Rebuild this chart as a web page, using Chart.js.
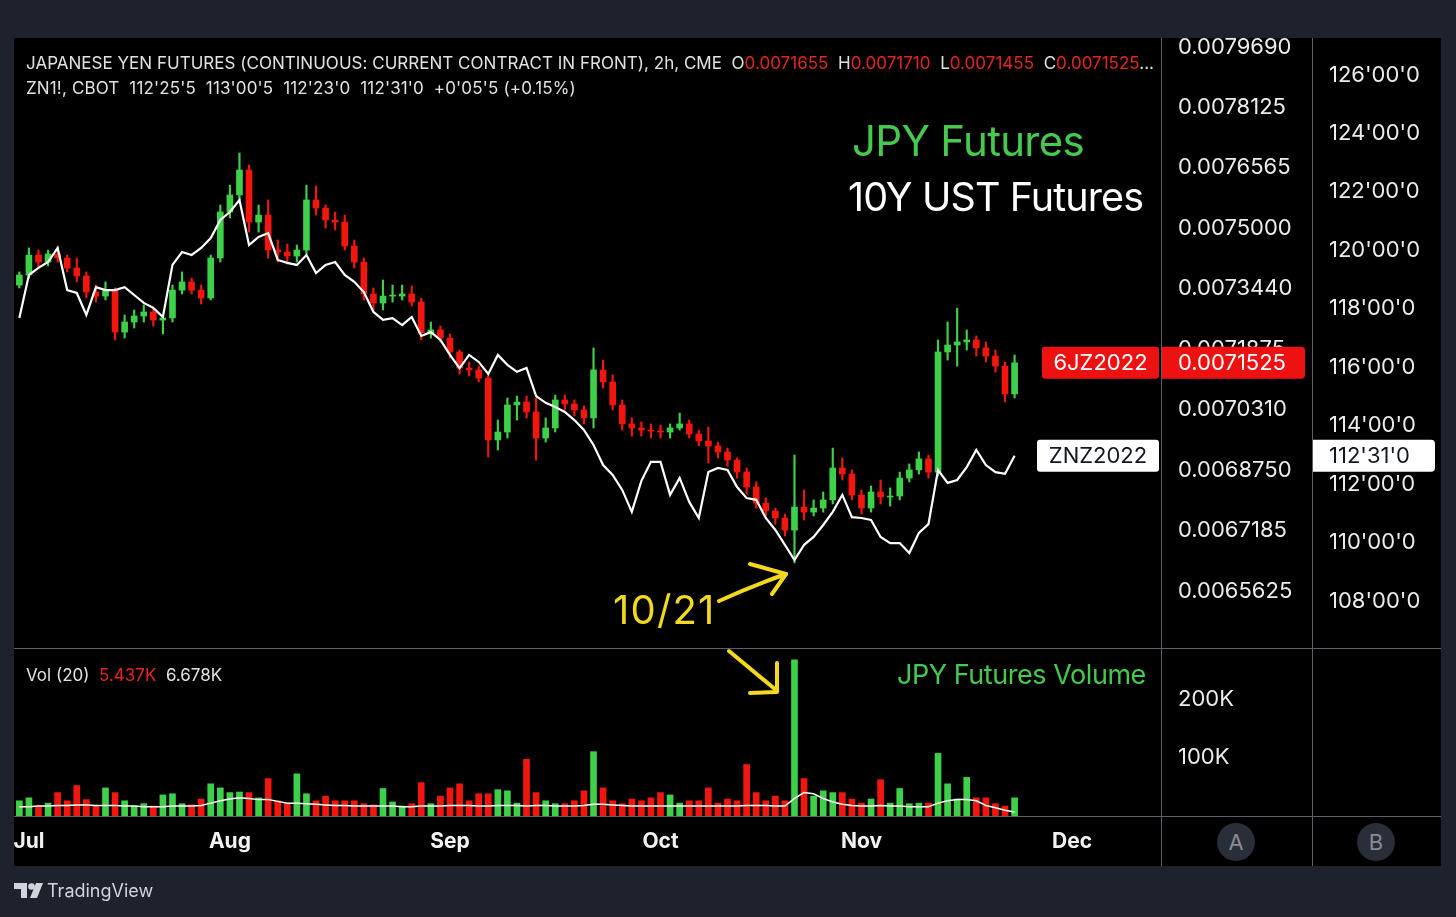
<!DOCTYPE html>
<html>
<head>
<meta charset="utf-8">
<script src="https://cdn.jsdelivr.net/npm/chart.js@4.4.1/dist/chart.umd.min.js"></script>
<style>
  html,body{margin:0;padding:0;}
  body{width:1456px;height:917px;background:#1e222d;position:relative;overflow:hidden;font-family:Inter,"Noto Sans",Arial,sans-serif;}
  .abs{position:absolute;}
  #black{left:14px;top:38px;width:1427px;height:828px;background:#000;}
  #cMain{left:14px;top:38px;width:1427px;height:610px;}
  #cVol{left:14px;top:649px;width:1427px;height:217px;}
  .sep{position:absolute;background:#5c5f68;}
  .txt{position:absolute;white-space:nowrap;line-height:1;}
  .red{color:#e5261c;}
  .circ{position:absolute;width:38px;height:38px;border-radius:50%;background:#2a2e39;color:#878b96;font-size:22px;line-height:38px;text-align:center;}
</style>
</head>
<body>
<div id="black" class="abs"></div>
<canvas id="cMain" class="abs" width="1427" height="610"></canvas>
<canvas id="cVol" class="abs" width="1427" height="217"></canvas>

<div class="sep" style="left:14px;top:648px;width:1427px;height:1px"></div>
<div class="sep" style="left:14px;top:816px;width:1427px;height:1px"></div>
<div class="sep" style="left:1161px;top:38px;width:1px;height:828px"></div>
<div class="sep" style="left:1312px;top:38px;width:1px;height:828px"></div>

<div class="txt" style="left:26px;top:54.5px;font-size:17px;color:#e2e2e2;letter-spacing:0.02px">JAPANESE YEN FUTURES (CONTINUOUS: CURRENT CONTRACT IN FRONT), 2h, CME&nbsp; O<span class="red">0.0071655</span>&nbsp; H<span class="red">0.0071710</span>&nbsp; L<span class="red">0.0071455</span>&nbsp; C<span class="red">0.0071525</span>...</div>
<div class="txt" style="left:26px;top:79.5px;font-size:17px;color:#e2e2e2;letter-spacing:0.15px">ZN1!, CBOT&nbsp; 112'25'5&nbsp; 113'00'5&nbsp; 112'23'0&nbsp; 112'31'0&nbsp; +0'05'5 (+0.15%)</div>
<div class="txt" style="left:852px;top:120px;font-size:42px;color:#46c94f;letter-spacing:-0.7px">JPY Futures</div>
<div class="txt" style="left:848px;top:178px;font-size:39.5px;color:#ffffff;letter-spacing:-0.9px">10Y UST Futures</div>
<div class="txt" style="left:613px;top:590px;font-size:40px;color:#f3d820;letter-spacing:1.2px">10/21</div>
<div class="txt" style="left:897px;top:661px;font-size:27px;color:#46c94f;letter-spacing:-0.45px">JPY Futures Volume</div>
<div class="txt" style="left:26px;top:666.5px;font-size:17px;color:#e2e2e2">Vol (20)&nbsp; <span class="red">5.437K</span>&nbsp; 6.678K</div>

<div class="circ" style="left:1217px;top:823px">A</div>
<div class="circ" style="left:1357px;top:823px">B</div>

<svg class="abs" style="left:0;top:0;pointer-events:none" width="1456" height="917">
  <g stroke="#f4d81e" stroke-width="4" fill="none" stroke-linecap="round" stroke-linejoin="round">
    <path d="M719 601 Q752 586 786 574"/>
    <path d="M750 564 L786 574 L772 594"/>
    <path d="M729 651 L776 690"/>
    <path d="M777 663 L777 692 L750 693"/>
  </g>
  <g fill="#d1d4dc">
    <path d="M14 883 H27 V898 H21 V889 H14 Z"/>
    <circle cx="31.5" cy="886.5" r="3.3"/>
    <path d="M36 883 H43 L37 898 H30 Z"/>
  </g>
</svg>
<div class="txt" style="left:47px;top:881.5px;font-size:18px;color:#d1d4dc">TradingView</div>

<script>
// ---------------- DATA ----------------
const jpyOpen = [0.0073535,0.0073795,0.0074310,0.0074130,0.0074340,0.0074235,0.0073975,0.0073770,0.0073355,0.0073250,
0.0073405,0.0072320,0.0072580,0.0072735,0.0072840,0.0072630,0.0072685,0.0073405,0.0073615,0.0073405,
0.0073200,0.0074235,0.0075425,0.0075865,0.0076510,0.0075165,0.0075345,0.0074440,0.0074390,0.0074285,
0.0074440,0.0075735,0.0075525,0.0075215,0.0075165,0.0074545,0.0074130,0.0073305,0.0073070,0.0073250,
0.0073250,0.0073305,0.0073095,0.0072295,0.0072375,0.0072165,0.0071805,0.0071390,0.0071340,0.0071130,
0.0069530,0.0069735,0.0070435,0.0070510,0.0070255,0.0069580,0.0069840,0.0070565,0.0070460,0.0070305,
0.0070100,0.0071340,0.0071030,0.0070435,0.0069945,0.0069840,0.0069785,0.0069760,0.0069735,0.0069840,
0.0069945,0.0069685,0.0069505,0.0069375,0.0069220,0.0069010,0.0068700,0.0068315,0.0067900,0.0067695,
0.0067510,0.0067200,0.0067795,0.0067665,0.0067770,0.0067980,0.0068805,0.0068650,0.0068105,0.0067770,
0.0068185,0.0068055,0.0068080,0.0068545,0.0068755,0.0069040,0.0068700,0.0071805,0.0071985,0.0072065,
0.0072115,0.0071910,0.0071700,0.0071440,0.0070720];
const jpyHigh = [0.0073875,0.0074495,0.0074440,0.0074440,0.0074520,0.0074310,0.0074235,0.0073875,0.0073535,0.0073615,
0.0073460,0.0072760,0.0072890,0.0073020,0.0072940,0.0072760,0.0073535,0.0073875,0.0073715,0.0073535,
0.0074310,0.0075605,0.0076120,0.0076950,0.0076640,0.0075605,0.0075735,0.0074700,0.0074595,0.0074570,
0.0076120,0.0076095,0.0075605,0.0075425,0.0075345,0.0074700,0.0074235,0.0073460,0.0073665,0.0073535,
0.0073535,0.0073510,0.0073200,0.0072580,0.0072475,0.0072270,0.0071855,0.0071545,0.0071440,0.0071210,
0.0070045,0.0070615,0.0070665,0.0070665,0.0070615,0.0070100,0.0070690,0.0070690,0.0070565,0.0070410,
0.0071910,0.0071595,0.0071210,0.0070565,0.0070100,0.0069995,0.0069945,0.0069915,0.0069945,0.0070225,
0.0070045,0.0069785,0.0069865,0.0069475,0.0069320,0.0069065,0.0068805,0.0068445,0.0068030,0.0067770,
0.0067615,0.0069140,0.0068235,0.0067980,0.0068185,0.0069320,0.0069065,0.0068755,0.0068235,0.0068340,
0.0068495,0.0068290,0.0068700,0.0068910,0.0069220,0.0069140,0.0072115,0.0072580,0.0072940,0.0072375,
0.0072220,0.0072065,0.0071855,0.0071545,0.0071725];
const jpyLow = [0.0073460,0.0073715,0.0073975,0.0074030,0.0074130,0.0073875,0.0073615,0.0073200,0.0073095,0.0073150,
0.0072115,0.0072165,0.0072425,0.0072580,0.0072475,0.0072270,0.0072580,0.0073305,0.0073305,0.0073045,
0.0073150,0.0074130,0.0075270,0.0075735,0.0074905,0.0074905,0.0074235,0.0074130,0.0074080,0.0074130,
0.0074340,0.0075345,0.0075010,0.0074960,0.0074440,0.0073975,0.0073150,0.0072890,0.0072890,0.0073095,
0.0073150,0.0072995,0.0072115,0.0072165,0.0072065,0.0071650,0.0071235,0.0071185,0.0071030,0.0069090,
0.0069270,0.0069580,0.0070045,0.0070100,0.0069010,0.0069475,0.0069735,0.0070305,0.0070150,0.0069945,
0.0069840,0.0070875,0.0070305,0.0069785,0.0069630,0.0069630,0.0069580,0.0069580,0.0069580,0.0069785,
0.0069580,0.0069375,0.0068935,0.0069065,0.0068855,0.0068545,0.0068135,0.0067770,0.0067565,0.0067355,
0.0067045,0.0066350,0.0067460,0.0067565,0.0067665,0.0067875,0.0068495,0.0067980,0.0067615,0.0067665,
0.0067875,0.0067820,0.0067980,0.0068445,0.0068650,0.0068545,0.0068600,0.0071595,0.0071440,0.0071855,
0.0071700,0.0071545,0.0071285,0.0070510,0.0070615];
const jpyClose = [0.0073795,0.0074310,0.0074130,0.0074340,0.0074235,0.0073975,0.0073770,0.0073355,0.0073250,0.0073405,
0.0072320,0.0072580,0.0072735,0.0072840,0.0072630,0.0072685,0.0073405,0.0073615,0.0073405,0.0073200,
0.0074235,0.0075425,0.0075865,0.0076510,0.0075165,0.0075345,0.0074440,0.0074390,0.0074285,0.0074440,
0.0075735,0.0075525,0.0075215,0.0075165,0.0074545,0.0074130,0.0073305,0.0073070,0.0073250,0.0073250,
0.0073305,0.0073095,0.0072295,0.0072375,0.0072165,0.0071805,0.0071390,0.0071340,0.0071130,0.0069530,
0.0069735,0.0070435,0.0070510,0.0070255,0.0069580,0.0069840,0.0070565,0.0070460,0.0070305,0.0070100,
0.0071340,0.0071030,0.0070435,0.0069945,0.0069840,0.0069785,0.0069760,0.0069735,0.0069840,0.0069945,
0.0069685,0.0069505,0.0069375,0.0069220,0.0069010,0.0068700,0.0068315,0.0067900,0.0067695,0.0067510,
0.0067200,0.0067795,0.0067665,0.0067770,0.0067980,0.0068805,0.0068650,0.0068105,0.0067770,0.0068185,
0.0068055,0.0068080,0.0068545,0.0068755,0.0069040,0.0068700,0.0071805,0.0071985,0.0072065,0.0072115,
0.0071910,0.0071700,0.0071440,0.0070720,0.0071525];
const znClose = [117.68,119.16,119.40,119.60,120.08,118.64,118.54,117.79,118.74,118.64,
118.64,118.74,118.47,118.20,118.03,117.72,119.50,119.94,119.84,120.08,
120.42,121.04,121.31,121.72,120.18,120.46,120.59,119.67,119.57,119.50,
119.84,119.22,119.50,119.60,119.16,118.92,118.57,117.89,117.62,117.68,
117.44,117.72,117.07,117.20,116.93,116.42,115.97,116.42,116.18,115.77,
116.42,116.08,115.84,115.97,115.01,114.78,114.64,114.47,114.19,113.85,
113.34,112.65,112.31,111.80,111.05,112.11,112.76,112.76,111.63,112.21,
111.39,110.84,112.41,112.55,112.48,111.90,111.52,111.46,110.84,110.43,
109.92,109.40,109.92,110.19,110.60,111.05,111.63,110.87,110.84,110.77,
110.19,109.98,109.98,109.64,110.33,110.63,112.48,112.04,112.14,112.58,
113.17,112.65,112.41,112.35,112.96875];
const volume = [26000,31000,17000,22000,40000,26000,52000,28000,17000,48000,
40000,26000,17000,21000,17000,36000,38000,21000,19000,29000,
55000,48000,40000,41000,40000,31000,64000,26000,21000,72000,
38000,26000,34000,26000,26000,26000,21000,19000,47000,24000,
17000,21000,57000,21000,34000,48000,55000,26000,38000,38000,
45000,43000,22000,97000,40000,26000,21000,21000,26000,43000,
110000,48000,26000,21000,29000,26000,31000,40000,36000,22000,
26000,26000,48000,22000,29000,26000,88000,40000,26000,34000,
26000,267000,64000,34000,43000,40000,40000,29000,22000,29000,
62000,22000,47000,21000,22000,22000,107000,55000,29000,66000,
31000,31000,21000,17000,31000];
const volMA = [16000,16000,17000,17000,18000,18000,19000,19000,18000,18000,
18000,17000,17000,16000,16000,16000,17000,17000,17000,18000,
22000,26000,29000,31000,30000,28000,28000,25000,22000,22000,
21000,20000,19000,18000,18000,17000,17000,17000,17000,17000,
16000,16000,17000,17000,17000,18000,18000,18000,17000,17000,
18000,18000,18000,17000,18000,18000,17000,17000,17000,18000,
20000,20000,19000,18000,17000,17000,17000,17000,17000,17000,
17000,17000,17000,17000,17000,17000,18000,18000,18000,17000,
17000,30000,40000,38000,30000,24000,20000,18000,17000,17000,
18000,17000,17000,16000,16000,16000,22000,26000,28000,28000,
26000,18000,14000,10000,7000];
const jpyTicks = [0.0079690,0.0078125,0.0076565,0.0075000,0.0073440,0.0071875,0.0070310,0.0068750,0.0067185,0.0065625];
const znTicks = [126,124,122,120,118,116,114,112,110,108];
const volTicks = [100000,200000];
const monthNames = ['Jan','Feb','Mar','Apr','May','Jun','Jul','Aug','Sep','Oct','Nov','Dec'];
const jpySymbol = '6JZ2022';
const znSymbol = 'ZNZ2022';

// trading-day categories (weekdays), extending past the data to the right edge
const days = [];
for (let d = new Date(Date.UTC(2022,5,30)); d <= new Date(Date.UTC(2022,11,16)); d.setUTCDate(d.getUTCDate()+1)) {
  const wd = d.getUTCDay();
  if (wd !== 0 && wd !== 6) days.push(new Date(d.getTime()));
}
const monthTicks = [];
for (let i = 1; i < days.length; i++) {
  if (days[i].getUTCMonth() !== days[i-1].getUTCMonth()) monthTicks.push({index:i, label:monthNames[days[i].getUTCMonth()]});
}

// ---------------- STYLE ----------------
const GREEN = '#3fd04a', RED = '#f2160f';
const TICK_COLOR = '#ececec';
const X_MIN = -0.56, X_MAX = 119.3;
Chart.defaults.font.family = "Inter, 'Noto Sans', sans-serif";

const idx = jpyClose.map((_, i) => i);
const candleColors = idx.map(i => jpyClose[i] >= jpyOpen[i] ? GREEN : RED);

function fmtZN(v){
  const w = Math.floor(v + 1e-9);
  const t = (v - w) * 32;
  let n = Math.floor(t + 1e-9);
  let f = Math.round((t - n) * 10);
  if (f === 10) { n++; f = 0; }
  return w + "'" + String(n).padStart(2,'0') + "'" + f;
}
function fixW(w){ return s => { s.width = w; s.paddingTop = 0; s.paddingBottom = 0; }; }
function rr(ctx, x, y, w, h, r){ ctx.beginPath(); ctx.roundRect(x, y, w, h, r); ctx.fill(); }

const tagPlugin = {
  id: 'lastTags',
  afterDraw(chart){
    const ctx = chart.ctx, ca = chart.chartArea;
    const yJ = chart.scales.yJ, yZ = chart.scales.yZ;
    const n = jpyClose.length - 1;
    const pj = yJ.getPixelForValue(jpyClose[n]);
    const pz = yZ.getPixelForValue(znClose[n]);
    ctx.save();
    ctx.font = "22px Inter, 'Noto Sans', sans-serif";
    ctx.textBaseline = 'middle';
    // JPY
    ctx.fillStyle = '#ee1111';
    rr(ctx, yJ.left, pj - 16, 144, 32, [0,4,4,0]);
    rr(ctx, ca.right - 119, pj - 16, 117, 32, 3);
    ctx.fillStyle = '#ffffff';
    ctx.textAlign = 'left';
    ctx.fillText(jpyClose[n].toFixed(7), yJ.left + 17, pj + 1);
    ctx.textAlign = 'center';
    ctx.fillText(jpySymbol, ca.right - 60.5, pj + 1);
    // ZN
    ctx.fillStyle = '#ffffff';
    rr(ctx, yZ.left, pz - 16, 123, 32, [0,4,4,0]);
    rr(ctx, ca.right - 124, pz - 16, 122, 32, 3);
    ctx.fillStyle = '#131722';
    ctx.textAlign = 'left';
    ctx.fillText(fmtZN(znClose[n]), yZ.left + 17, pz + 1);
    ctx.textAlign = 'center';
    ctx.fillText(znSymbol, ca.right - 63, pz + 1);
    ctx.restore();
  }
};

const axisFont = {size: 22};

new Chart(document.getElementById('cMain'), {
  type: 'bar',
  data: { datasets: [
    {type:'line', yAxisID:'yZ', xAxisID:'x', data: idx.map(i => ({x:i, y:znClose[i]})),
     borderColor:'#ffffff', borderWidth:2.2, pointRadius:0, tension:0},
    {type:'bar', yAxisID:'yJ', xAxisID:'x', data: idx.map(i => ({x:i, y:[jpyOpen[i], jpyClose[i]]})),
     backgroundColor: candleColors, barThickness:6, grouped:false, minBarLength:1},
    {type:'bar', yAxisID:'yJ', xAxisID:'x', data: idx.map(i => ({x:i, y:[jpyLow[i], jpyHigh[i]]})),
     backgroundColor: candleColors, barThickness:1.5, grouped:false}
  ]},
  options: {
    responsive:false, animation:false, events:[],
    layout:{padding:0},
    plugins:{legend:{display:false}, tooltip:{enabled:false}},
    scales:{
      x:{type:'linear', min:X_MIN, max:X_MAX, offset:false, display:false},
      yJ:{type:'linear', position:'right', weight:1, min:0.0064151, max:0.0079923,
          grid:{display:false, drawTicks:false}, border:{display:false},
          ticks:{color:TICK_COLOR, font:axisFont, padding:17, autoSkip:false, callback:v => Number(v).toFixed(7)},
          afterBuildTicks: s => { s.ticks = jpyTicks.map(v => ({value:v})); },
          afterFit: fixW(151)},
      yZ:{type:'linear', position:'right', weight:2, min:106.39, max:127.266,
          grid:{display:false, drawTicks:false}, border:{display:false},
          ticks:{color:TICK_COLOR, font:axisFont, padding:17, autoSkip:false, callback:v => fmtZN(v)},
          afterBuildTicks: s => { s.ticks = znTicks.map(v => ({value:v})); },
          afterFit: fixW(129)}
    }
  },
  plugins:[tagPlugin]
});

new Chart(document.getElementById('cVol'), {
  type: 'bar',
  data: { datasets: [
    {type:'line', yAxisID:'yV', xAxisID:'x', data: idx.map(i => ({x:i, y:volMA[i]})),
     borderColor:'#ffffff', borderWidth:1.5, pointRadius:0, tension:0},
    {type:'bar', yAxisID:'yV', xAxisID:'x', data: idx.map(i => ({x:i, y:volume[i]})),
     backgroundColor: candleColors, barThickness:6, grouped:false}
  ]},
  options: {
    responsive:false, animation:false, events:[],
    layout:{padding:0},
    plugins:{legend:{display:false}, tooltip:{enabled:false}},
    scales:{
      x:{type:'linear', position:'bottom', min:X_MIN, max:X_MAX, offset:false,
         grid:{display:false, drawTicks:false}, border:{display:false},
         ticks:{color:'#f2f2f2', font:{size:21, weight:'bold'}, padding:13, autoSkip:false, maxRotation:0,
                callback: v => { const t = monthTicks.find(m => m.index === v); return t ? t.label : ''; }},
         afterBuildTicks: s => { s.ticks = monthTicks.map(m => ({value:m.index})); },
         afterFit: s => { s.height = 50; s.paddingLeft = 0; s.paddingRight = 0; }},
      yV:{type:'linear', position:'right', weight:1, min:0, max:285500,
          grid:{display:false, drawTicks:false}, border:{display:false},
          ticks:{color:TICK_COLOR, font:axisFont, padding:17, autoSkip:false, callback:v => (v/1000) + 'K'},
          afterBuildTicks: s => { s.ticks = volTicks.map(v => ({value:v})); },
          afterFit: fixW(151)},
      yD:{type:'linear', position:'right', weight:2, min:0, max:1,
          grid:{display:false, drawTicks:false}, border:{display:false},
          ticks:{display:false},
          afterFit: fixW(129)}
    }
  }
});
</script>
</body>
</html>
